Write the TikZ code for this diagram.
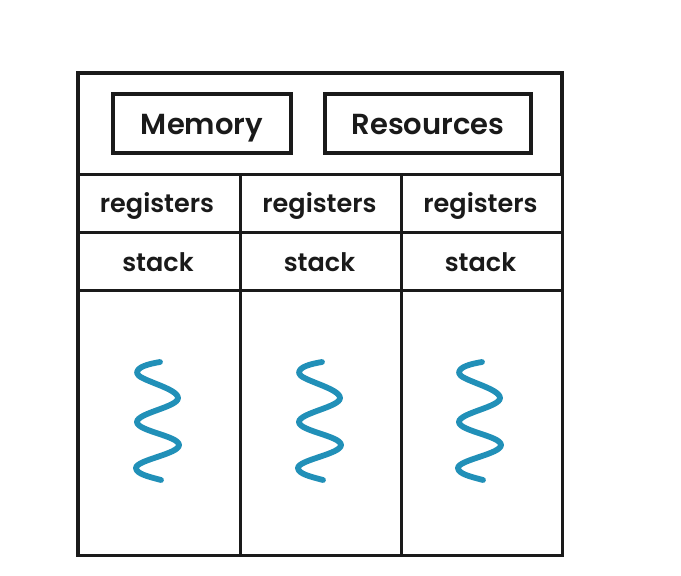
\documentclass[tikz,border=0pt]{standalone}
\usepackage{fontspec}
\setmainfont{Poppins SemiBold}
\definecolor{ink}{HTML}{1A1A1A}
\definecolor{wave}{HTML}{2190B8}
\tikzset{
  x=1pt,y=-1pt,
  frame/.style={draw=ink,line width=3.2pt,fill=white,inner sep=0pt,outer sep=0pt,anchor=north west},
  cell/.style={frame,line width=3pt},
  big/.style={text=ink,anchor=base,font=\fontsize{29}{32}\selectfont},
  small/.style={text=ink,anchor=base,font=\fontsize{25.5}{28}\selectfont},
  squiggle/.style={draw=wave,line width=5.8pt,line cap=round,line join=round}
}
\newcommand{\cellbox}[5]{\node[cell,minimum width=#3 pt,minimum height=#4 pt] (#5) at (#1,#2) {};}
\newcommand{\wavy}[1]{
  \draw[squiggle,shift={(#1,0)}] (160,362) .. controls (148,364) and (137,367) .. (137,373)
    .. controls (137,380) and (178,388) .. (178,398)
    .. controls (178,407) and (137,413) .. (137,422)
    .. controls (137,431) and (179,436) .. (179,445)
    .. controls (179,454) and (136,460) .. (136,468)
    .. controls (136,474) and (150,477) .. (161,480);
}
\begin{document}
\begin{tikzpicture}
\useasboundingbox (0,0) rectangle (681,576);
\fill[white] (0,0) rectangle (681,576);
\node[frame,minimum width=484pt,minimum height=482pt] (outer) at (78,73) {};
\node[frame,minimum width=178pt,minimum height=59pt] (mem) at (113,94) {};
\node[big] at ([yshift=-11pt]mem.center) {Memory};
\node[frame,minimum width=206pt,minimum height=59pt] (res) at (325,94) {};
\node[big] at ([yshift=-11pt]res.center) {Resources};
\cellbox{78}{174}{162}{58}{r1}
\cellbox{240}{174}{161}{58}{r2}
\cellbox{401}{174}{161}{58}{r3}
\cellbox{78}{232}{162}{58}{s1}
\cellbox{240}{232}{161}{58}{s2}
\cellbox{401}{232}{161}{58}{s3}
\cellbox{78}{290}{162}{265}{t1}
\cellbox{240}{290}{161}{265}{t2}
\cellbox{401}{290}{161}{265}{t3}
\node[small] at ([xshift=-2pt,yshift=-9pt]r1.center) {registers};
\node[small] at ([xshift=-1pt,yshift=-9pt]r2.center) {registers};
\node[small] at ([xshift=-1pt,yshift=-9pt]r3.center) {registers};
\node[small] at ([xshift=-1pt,yshift=-10pt]s1.center) {stack};
\node[small] at ([xshift=-1pt,yshift=-10pt]s2.center) {stack};
\node[small] at ([xshift=-1pt,yshift=-10pt]s3.center) {stack};
\wavy{0}
\wavy{162}
\wavy{322}
\end{tikzpicture}
\end{document}
